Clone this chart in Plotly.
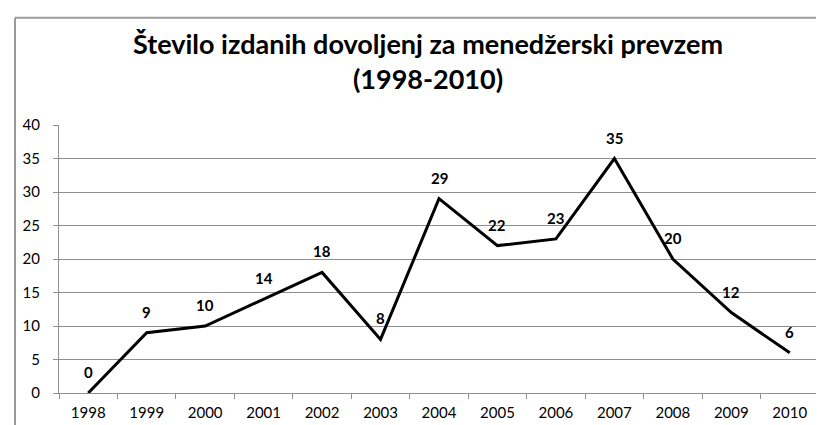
import plotly.graph_objects as go

years = ["1998", "1999", "2000", "2001", "2002", "2003", "2004",
         "2005", "2006", "2007", "2008", "2009", "2010"]
permits = [0, 9, 10, 14, 18, 8, 29, 22, 23, 35, 20, 12, 6]
y_ticks = [0, 5, 10, 15, 20, 25, 30, 35, 40]
title_text = "Število izdanih dovoljenj za menedžerski prevzem<br>(1998-2010)"

GRID = "#8f8f8f"
FRAME = "#9a9a9a"

fig = go.Figure()
fig.add_trace(go.Scatter(
    x=years, y=permits, mode="lines",
    line=dict(color="black", width=3),
    cliponaxis=False, hoverinfo="skip", showlegend=False,
))

for i, v in enumerate(permits):
    fig.add_annotation(
        x=i, y=v, xref="x", yref="y", text=str(v), showarrow=False,
        yshift=21, xanchor="center", yanchor="middle",
        font=dict(family="Lato", size=15, color="black", weight="bold"),
    )

# outer chart frame (only top/left edges visible in the crop)
fx0 = (7 - 51) / 760
fy1 = 1 + (117 - 9) / 270
fig.add_shape(type="line", xref="paper", yref="paper",
              x0=fx0, x1=1.1, y0=fy1, y1=fy1,
              line=dict(color=FRAME, width=2))
fig.add_shape(type="line", xref="paper", yref="paper",
              x0=fx0, x1=fx0, y0=-0.2, y1=fy1,
              line=dict(color=FRAME, width=2))

fig.update_layout(
    width=824, height=425,
    margin=dict(l=51, r=13, t=117, b=38),
    paper_bgcolor="white", plot_bgcolor="white",
    title=dict(
        text=title_text, x=420 / 824, xanchor="center", xref="container",
        y=1 - 46 / 425, yanchor="middle", yref="container",
        font=dict(family="Lato", size=27, color="black", weight="bold"),
    ),
    font=dict(family="Lato", size=14, color="black"),
    xaxis=dict(
        type="category", range=[-0.5, 12.5],
        showline=True, linecolor=GRID, linewidth=1,
        ticks="outside", ticklen=5, tickcolor=GRID, tickson="boundaries",
        showgrid=False, ticklabelstandoff=6,
        tickfont=dict(family="Lato", size=15, color="black"),
    ),
    yaxis=dict(
        range=[0, 40], tickvals=y_ticks,
        showline=True, linecolor=GRID, linewidth=1,
        ticks="outside", ticklen=5, tickcolor=GRID,
        showgrid=True, gridcolor=GRID, gridwidth=1, zeroline=False,
        ticklabelstandoff=10,
        tickfont=dict(family="Lato", size=15, color="black"),
    ),
)

fig.write_html("out.html")
